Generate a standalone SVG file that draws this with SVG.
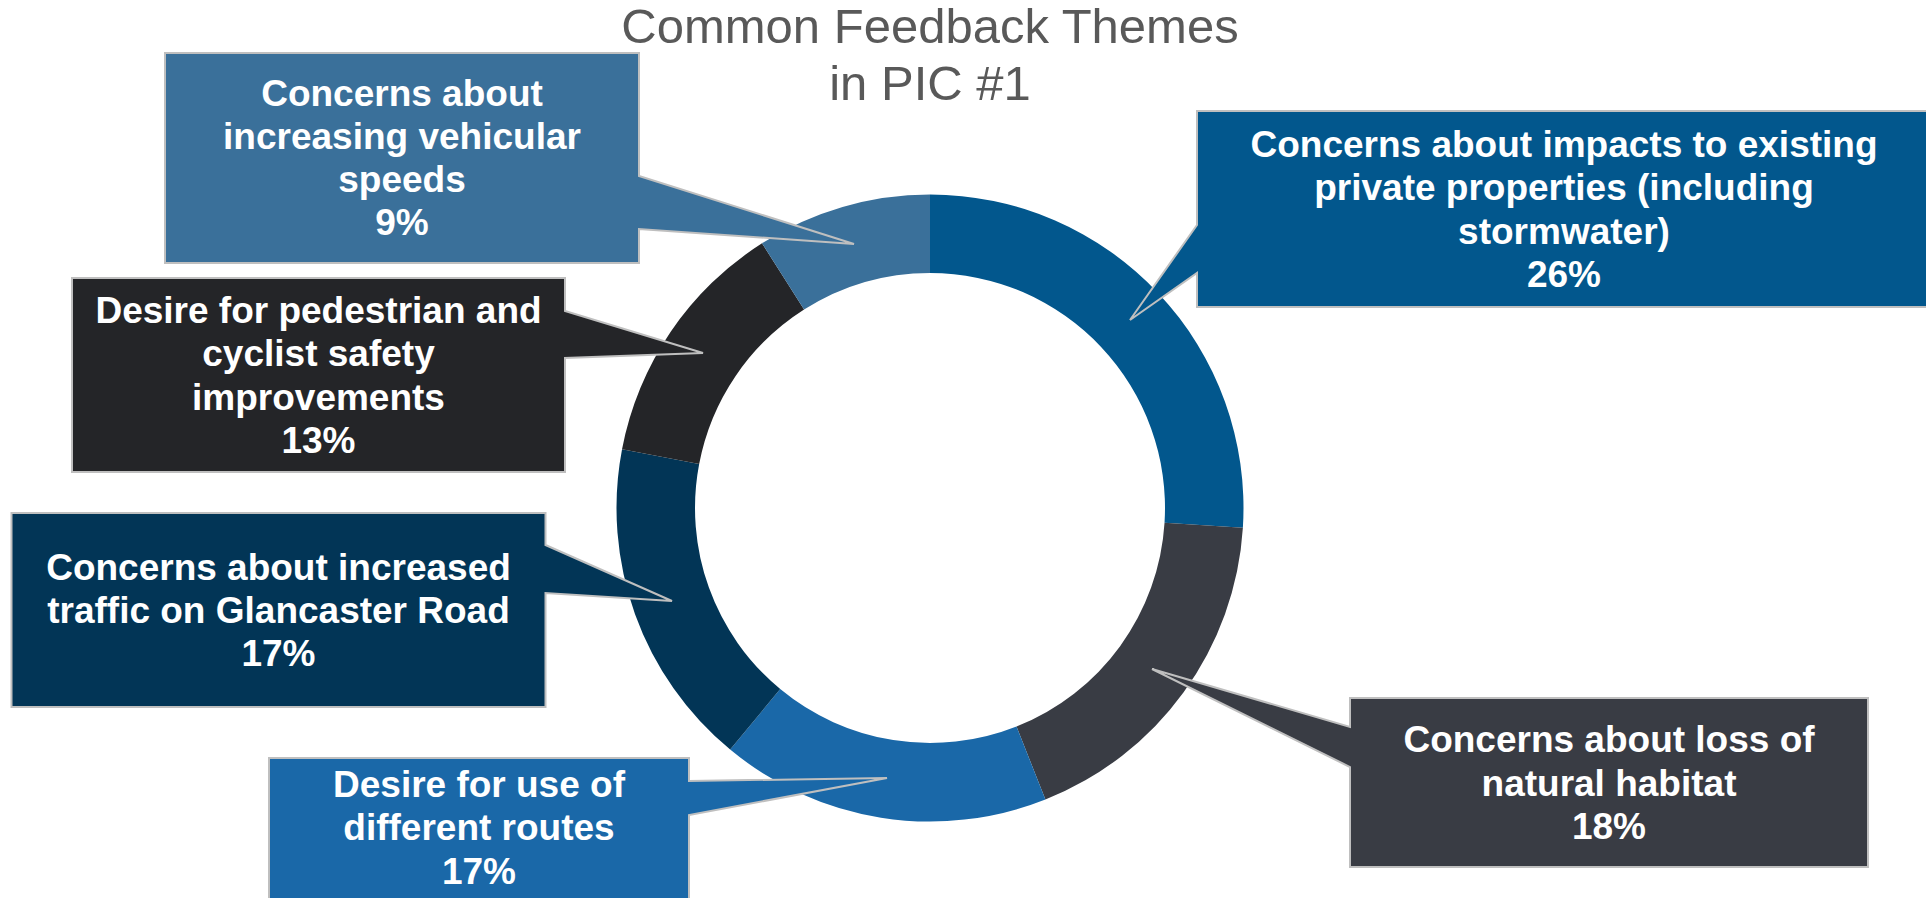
<svg xmlns="http://www.w3.org/2000/svg" width="1926" height="898" viewBox="0 0 1926 898">
<style>
.title{font-family:"Liberation Sans",Arial,sans-serif;font-size:49px;fill:#595959;text-anchor:middle}
.lbl{font-family:"Liberation Sans",Arial,sans-serif;font-size:37px;font-weight:bold;fill:#FFFFFF;text-anchor:middle}
.co{stroke:#BFBFBF;stroke-width:2;stroke-linejoin:miter}
</style>
<rect x="0" y="0" width="1926" height="898" fill="#FFFFFF"/>
<g id="title">
<text class="title" x="930" y="43">Common Feedback Themes</text>
<text class="title" x="930" y="100">in PIC #1</text>
</g>
<g id="donut">
<path id="seg-26" fill="#02578D" d="M930,194.5 A313.5,313.5 0 0 1 1242.88,527.68 L1164.54,522.76 A235,235 0 0 0 930,273 Z"/>
<path id="seg-18" fill="#393C44" d="M1242.88,527.68 A313.5,313.5 0 0 1 1045.41,799.49 L1016.51,726.5 A235,235 0 0 0 1164.54,522.76 Z"/>
<path id="seg-17b" fill="#1A68A8" d="M1045.41,799.49 A313.5,313.5 0 0 1 730.17,749.56 L780.21,689.07 A235,235 0 0 0 1016.51,726.5 Z"/>
<path id="seg-17a" fill="#023556" d="M730.17,749.56 A313.5,313.5 0 0 1 622.05,449.26 L699.16,463.97 A235,235 0 0 0 780.21,689.07 Z"/>
<path id="seg-13" fill="#242528" d="M622.05,449.26 A313.5,313.5 0 0 1 762.02,243.3 L804.08,309.58 A235,235 0 0 0 699.16,463.97 Z"/>
<path id="seg-9" fill="#3A709A" d="M762.02,243.3 A313.5,313.5 0 0 1 930,194.5 L930,273 A235,235 0 0 0 804.08,309.58 Z"/>
</g>
<g id="connectors"></g>
<g id="callout-9">
<path class="co" fill="#3A709A" d="M165,53 H639 V176 L854,244 L639,229 V263 H165 Z"/>
<text class="lbl" x="402" y="106">Concerns about</text>
<text class="lbl" x="402" y="149">increasing vehicular</text>
<text class="lbl" x="402" y="192">speeds</text>
<text class="lbl" x="402" y="235">9%</text>
</g>
<g id="callout-13">
<path class="co" fill="#242528" d="M72,278 H565 V311 L703,353 L565,358 V472 H72 Z"/>
<text class="lbl" x="318.5" y="323">Desire for pedestrian and</text>
<text class="lbl" x="318.5" y="366">cyclist safety</text>
<text class="lbl" x="318.5" y="409.5">improvements</text>
<text class="lbl" x="318.5" y="453">13%</text>
</g>
<g id="callout-17a">
<path class="co" fill="#023556" d="M11.5,513 H545.5 V545 L672,601 L545.5,593 V707 H11.5 Z"/>
<text class="lbl" x="278.5" y="580">Concerns about increased</text>
<text class="lbl" x="278.5" y="623">traffic on Glancaster Road</text>
<text class="lbl" x="278.5" y="666">17%</text>
</g>
<g id="callout-26">
<path class="co" fill="#02578D" d="M1197,111 H1934 V307 H1197 V273 L1130,320 L1197,225 Z"/>
<text class="lbl" x="1564" y="157">Concerns about impacts to existing</text>
<text class="lbl" x="1564" y="200">private properties (including</text>
<text class="lbl" x="1564" y="243.5">stormwater)</text>
<text class="lbl" x="1564" y="287">26%</text>
</g>
<g id="callout-17b">
<path class="co" fill="#1A68A8" d="M269,758 H689 V781 L887,778 L689,815 V904 H269 Z"/>
<text class="lbl" x="479" y="797">Desire for use of</text>
<text class="lbl" x="479" y="840">different routes</text>
<text class="lbl" x="479" y="884">17%</text>
</g>
<g id="callout-18">
<path class="co" fill="#393C44" d="M1350,698 H1868 V867 H1350 V767 L1152,669 L1350,727 Z"/>
<text class="lbl" x="1609" y="752">Concerns about loss of</text>
<text class="lbl" x="1609" y="796">natural habitat</text>
<text class="lbl" x="1609" y="839">18%</text>
</g>
</svg>
